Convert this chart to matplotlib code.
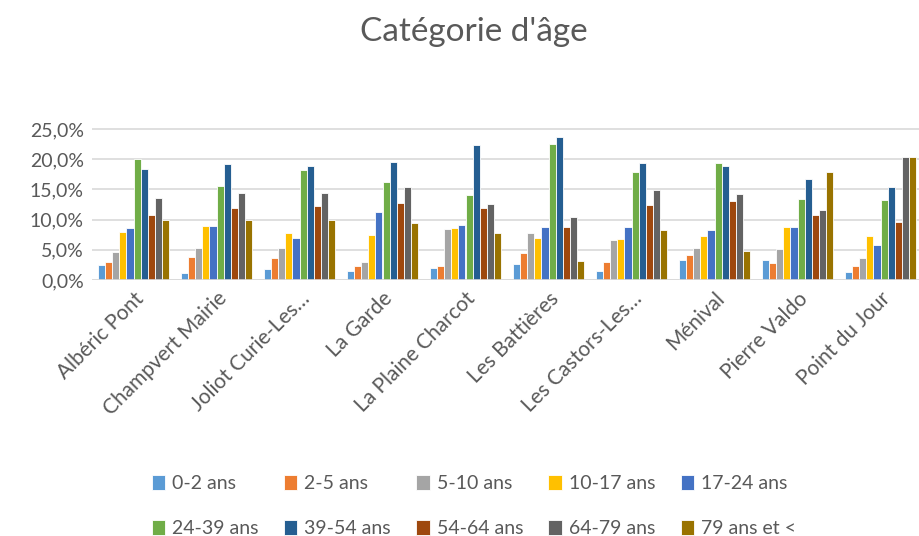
import numpy as np
import matplotlib
matplotlib.use("Agg")
import matplotlib.pyplot as plt

plt.rcParams['font.family'] = ['Lato', 'DejaVu Sans']

quartiers = ["Albéric Pont", "Champvert Mairie", "Joliot Curie-Les…", "La Garde",
             "La Plaine Charcot", "Les Battières", "Les Castors-Les…", "Ménival",
             "Pierre Valdo", "Point du Jour"]
tranches = ["0-2 ans", "2-5 ans", "5-10 ans", "10-17 ans", "17-24 ans",
            "24-39 ans", "39-54 ans", "54-64 ans", "64-79 ans", "79 ans et <"]
couleurs = ["#5B9BD5", "#ED7D31", "#A5A5A5", "#FFC000", "#4472C4",
            "#70AD47", "#255E91", "#9E480E", "#636363", "#997300"]

# one list per age bracket, values in % for each quartier (same order as quartiers)
age_0_2   = [2.5, 1.2, 1.8, 1.5, 2.0, 2.65, 1.5, 3.35, 3.35, 1.25]
age_2_5   = [3.0, 3.75, 3.6, 2.4, 2.3, 4.5, 3.0, 4.2, 2.75, 2.4]
age_5_10  = [4.6, 5.35, 5.3, 3.0, 8.4, 7.8, 6.6, 5.35, 5.2, 3.6]
age_10_17 = [8.0, 8.9, 7.7, 7.5, 8.6, 7.0, 6.85, 7.35, 8.8, 7.3]
age_17_24 = [8.6, 9.0, 7.0, 11.3, 9.1, 8.7, 8.7, 8.3, 8.7, 5.8]
age_24_39 = [20.1, 15.6, 18.2, 16.3, 14.1, 22.5, 17.9, 19.4, 13.4, 13.3]
age_39_54 = [18.3, 19.2, 18.9, 19.5, 22.35, 23.6, 19.3, 18.9, 16.7, 15.4]
age_54_64 = [10.7, 11.9, 12.25, 12.8, 12.0, 8.7, 12.4, 13.1, 10.75, 9.65]
age_64_79 = [13.6, 14.35, 14.45, 15.45, 12.6, 10.5, 14.85, 14.3, 11.65, 20.4]
age_79p   = [10.0, 10.0, 10.0, 9.5, 7.8, 3.2, 8.2, 4.85, 17.9, 20.3]

series = [age_0_2, age_2_5, age_5_10, age_10_17, age_17_24,
          age_24_39, age_39_54, age_54_64, age_64_79, age_79p]

W, H = 920, 536
fig = plt.figure(figsize=(W / 100, H / 100), dpi=100)
ax = fig.add_axes([92 / W, (H - 280) / H, (922 - 92) / W, (280 - 129) / H * 25.3 / 25])

txt = "#595959"
x = np.arange(len(quartiers))
n = len(series)
bw = 0.86 / n
for i, (vals, lab, col) in enumerate(zip(series, tranches, couleurs)):
    ax.bar(x - 0.43 + bw * (i + 0.5), vals, width=bw, color=col, label=lab,
           edgecolor="white", linewidth=0.6, zorder=3)

ax.set_xlim(-0.5, len(quartiers) - 0.5)
ax.set_ylim(0, 25.3)
ax.set_yticks(np.arange(0, 26, 5))
ax.set_yticklabels([f"{v:.1f}%".replace(".", ",") for v in np.arange(0, 26, 5)],
                   fontsize=14, color=txt)
ax.yaxis.grid(True, color="#D9D9D9", linewidth=1.2, zorder=0)
for s in ax.spines.values():
    s.set_visible(False)
ax.axhline(0, color="#D9D9D9", linewidth=1.2, zorder=4)
ax.tick_params(axis="both", length=0, pad=6)
ax.set_xticks(x)
ax.set_xticklabels(quartiers, rotation=45, ha="right", va="top",
                   rotation_mode="anchor", fontsize=15, color=txt)

fig.text(0.515, 1 - 32 / H, "Catégorie d'âge", ha="center", va="center",
         fontsize=24, color=txt)

# legend filled row by row (matplotlib fills columns first)
h, l = ax.get_legend_handles_labels()
order = [0, 5, 1, 6, 2, 7, 3, 8, 4, 9]
fig.legend([h[k] for k in order], [l[k] for k in order],
           loc="center", bbox_to_anchor=(0.515, 1 - 506 / H), ncol=5, frameon=False,
           fontsize=14, labelcolor=txt, handlelength=0.7, handleheight=0.8,
           handletextpad=0.35, columnspacing=1.3, labelspacing=1.45)

fig.savefig("out.png", dpi=100)
